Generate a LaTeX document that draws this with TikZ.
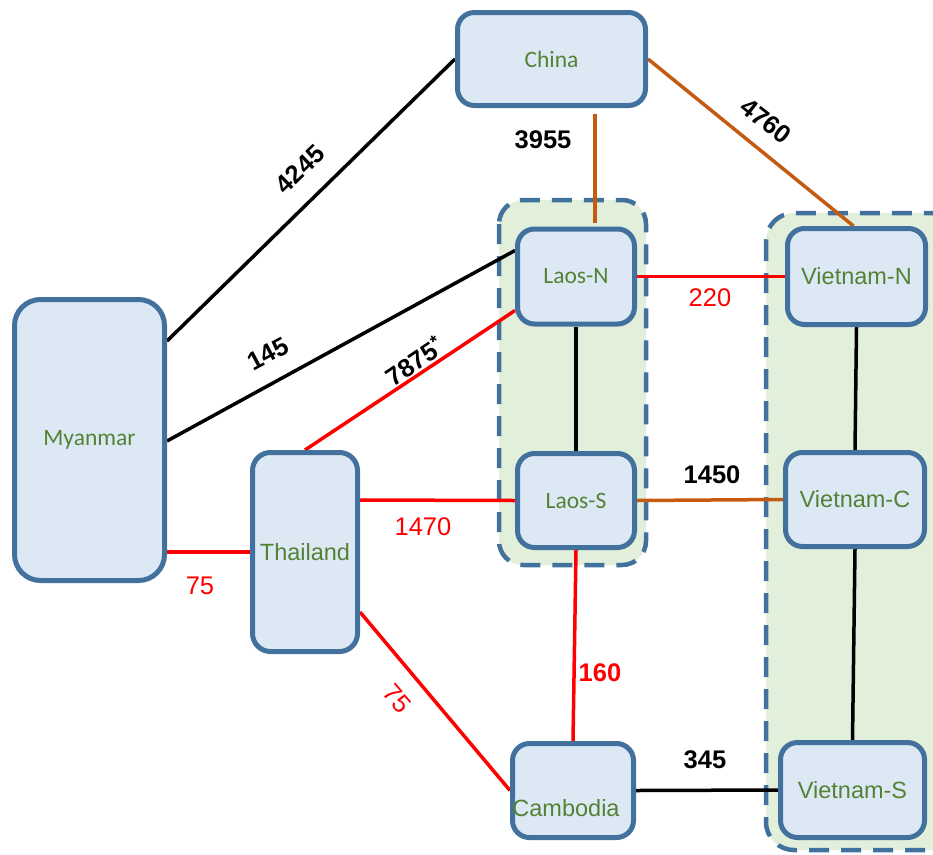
\documentclass[tikz,border=0pt]{standalone}
\usepackage{fontspec}
\setmainfont{Liberation Sans}
\newfontfamily\calfont{Carlito}
\definecolor{boxblue}{HTML}{41719C}
\definecolor{boxfill}{HTML}{DDE8F5}
\definecolor{grpfill}{HTML}{E2EFDA}
\definecolor{txtgreen}{HTML}{548235}
\definecolor{linkred}{HTML}{FF0000}
\definecolor{linkorange}{HTML}{C55A11}
\begin{document}
\pgfdeclarelayer{groups}
\pgfdeclarelayer{links}
\pgfsetlayers{groups,links,main}
\begin{tikzpicture}[x=1pt,y=-1pt,
  box/.style={draw=boxblue, line width=5pt, fill=boxfill, rounded corners=#1,
    text=txtgreen, inner sep=0pt, font=\fontsize{23.5}{28}\selectfont},
  box/.default=17pt,
  cal/.style={font=\calfont\fontsize{23.5}{28}\selectfont},
  grp/.style={draw=boxblue, line width=4.5pt, fill=grpfill, rounded corners=#1,
    dash pattern=on 20pt off 12pt},
  grp/.default=24pt,
  blk/.style={draw=black, line width=3.5pt},
  rd/.style={draw=linkred, line width=3.5pt},
  org/.style={draw=linkorange, line width=3.5pt},
  num/.style={font=\bfseries\fontsize{25.5}{30}\selectfont, text=black, inner sep=0pt},
  rnum/.style={font=\fontsize{25.5}{30}\selectfont, text=linkred, inner sep=0pt},
]
\useasboundingbox (0,0) rectangle (933,854);

% country boxes
\node[box, cal, minimum width=188pt, minimum height=93pt] (china) at (551.5,59) {China};
\node[box=26pt, cal, minimum width=150pt, minimum height=281pt] (my) at (89.5,440) {Myanmar};
\node[box=18pt, minimum width=105pt, minimum height=199pt] (th) at (305,552) {Thailand};
\node[box, cal, minimum width=117pt, minimum height=95pt] (laosn) at (576,276.5) {Laos-N};
\node[box, cal, minimum width=117pt, minimum height=94pt] (laoss) at (576,500.5) {Laos-S};
\node[box, minimum width=138pt, minimum height=96pt] (vn) at (856.5,276.5) {Vietnam-N};
\node[box, minimum width=139pt, minimum height=94pt] (vc) at (855,499.5) {Vietnam-C};
\node[box, minimum width=144pt, minimum height=95pt] (vs) at (852.5,790) {Vietnam-S};
\node[box, minimum width=121pt, minimum height=94pt,
  label={[xshift=-7pt, yshift=-18pt, text=txtgreen,
    font=\fontsize{23.5}{28}\selectfont]center:Cambodia}] (cam) at (573,790.5) {};

% white sheet and dashed regional groups
\begin{pgfonlayer}{groups}
  \fill[white] (0,0) rectangle (933,854);
  \draw[grp] (499,200) rectangle (646,565);
  \draw[grp=28pt] (766,213) rectangle (970,850);
\end{pgfonlayer}

% connections
\begin{pgfonlayer}{links}
  \draw[blk] ([yshift=99pt]my.east) -- (china.west);
  \draw[blk] ([yshift=-1pt]my.east) -- ([yshift=26pt]laosn.west);
  \draw[rd] (th.north) -- ([yshift=-34pt]laosn.west);
  \draw[rd] (my.east |- th.west) -- (th.west);
  \draw[rd] ([yshift=52pt]th.east) -- (laoss.west);
  \draw[rd] ([yshift=-60pt]th.east) -- (cam.west);
  \draw[blk] (laosn.south) -- (laoss.north);
  \draw[rd] (laoss.south) -- (cam.north);
  \draw[org] (laoss.east) -- (vc.west);
  \draw[rd] (laosn.east) -- (vn.west);
  \draw[org, shorten <=6pt, shorten >=4pt] ([xshift=43.5pt]china.south) -- ([xshift=19pt]laosn.north);
  \draw[org] (china.east) -- ([xshift=-3pt]vn.north);
  \draw[blk] (vn.south) -- (vc.north);
  \draw[blk] (vc.south) -- (vs.north);
  \draw[blk] (cam.east) -- (vs.west);
\end{pgfonlayer}

% link values
\node[num, rotate=44] (l4245) at (300,169) {4245};
\node[num, rotate=-38] (l4760) at (766,121) {4760};
\node[num] (l3955) at (543,140) {3955};
\node[num, rotate=28] (l145) at (268,354) {145};
\node[num, rotate=34] (l7875) at (414,361) {7875\textsuperscript{*}};
\node[rnum] (l220) at (710,298) {220};
\node[num] (l1450) at (712,475) {1450};
\node[rnum] (l1470) at (423,527) {1470};
\node[rnum] (l75a) at (200,586) {75};
\node[rnum, rotate=-49] (l75b) at (397,699) {75};
\node[num, text=linkred] (l160) at (600,673) {160};
\node[num] (l345) at (705,760) {345};
\end{tikzpicture}
\end{document}
